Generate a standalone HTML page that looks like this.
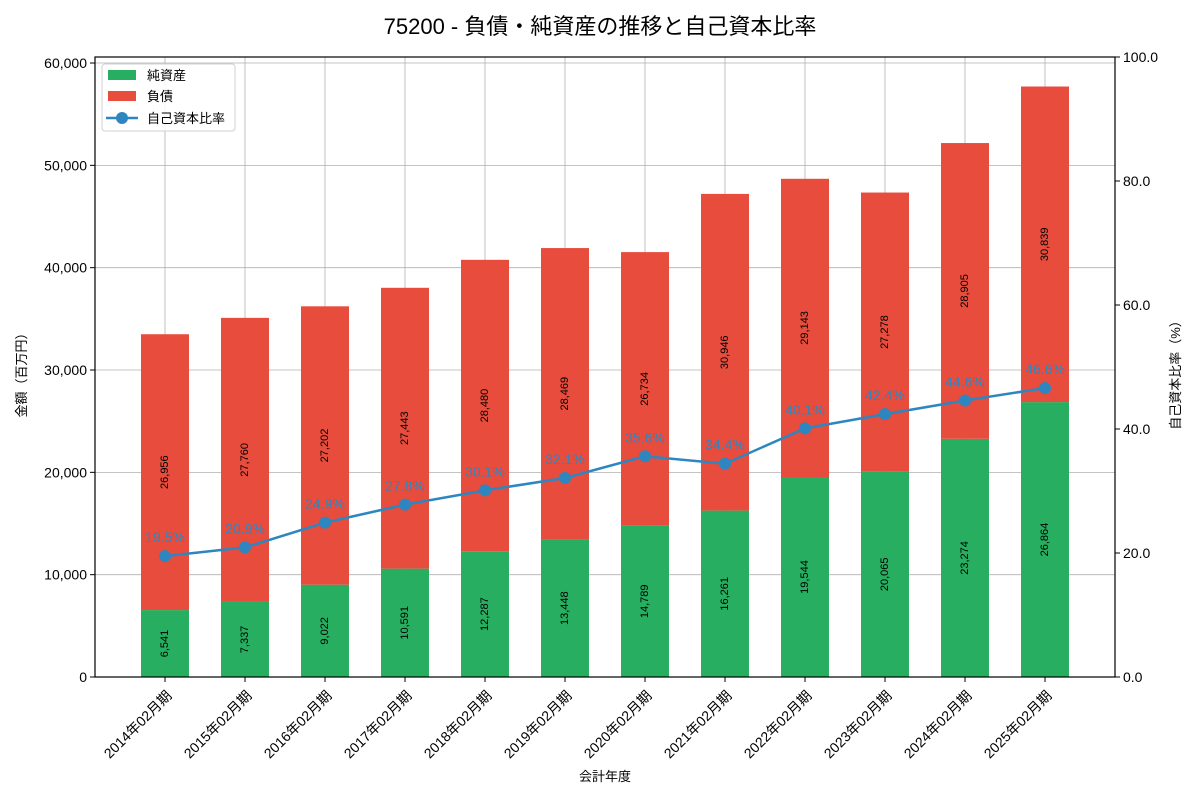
<!DOCTYPE html>
<html><head><meta charset="utf-8"><style>
body{margin:0;background:#fff;}
svg text{font-family:"Liberation Sans","Noto Sans CJK JP",sans-serif;}
</style></head><body>
<svg id="chart" width="1200" height="800" xmlns="http://www.w3.org/2000/svg"></svg>
<script>
const categories=["2014年02月期","2015年02月期","2016年02月期","2017年02月期","2018年02月期","2019年02月期","2020年02月期","2021年02月期","2022年02月期","2023年02月期","2024年02月期","2025年02月期"];
const netAssets=[6541,7337,9022,10591,12287,13448,14789,16261,19544,20065,23274,26864];
const liabilities=[26956,27760,27202,27443,28480,28469,26734,30946,29143,27278,28905,30839];
const ratios=[19.5,20.9,24.9,27.8,30.1,32.1,35.6,34.4,40.1,42.4,44.6,46.6];
const leftTicks=[0,10000,20000,30000,40000,50000,60000];
const rightTicks=[0,20,40,60,80,100];

const NS="http://www.w3.org/2000/svg";
const svg=document.getElementById('chart');
const L=95,R=1115,T=57,B=677;
const yMax=60588;
const x=i=>165+80*i;
const y=v=>B-(v/yMax)*(B-T);
const y2=v=>B-(v/100)*(B-T);
function mk(tag,attrs,parent){const e=document.createElementNS(NS,tag);for(const k in attrs)e.setAttribute(k,attrs[k]);(parent||svg).appendChild(e);return e;}
const fmt=v=>v.toLocaleString('en-US');

// grid
leftTicks.forEach(t=>{const g=mk('line',{x1:L,x2:R,y1:y(t),y2:y(t),stroke:'#b0b0b0','stroke-width':0.8});

});
categories.forEach((c,i)=>{const g=mk('line',{x1:x(i),x2:x(i),y1:T,y2:B,stroke:'#b0b0b0','stroke-width':0.8});

});

// bars
categories.forEach((c,i)=>{
  const n=netAssets[i],l=liabilities[i];
  const b1=mk('rect',{x:x(i)-24,width:48,y:y(n),height:B-y(n),fill:'#27ae60'});
  
  
  const b2=mk('rect',{x:x(i)-24,width:48,y:y(n+l),height:y(n)-y(n+l),fill:'#e74c3c'});
  
  
  const cy1=(B+y(n))/2, cy2=(y(n)+y(n+l))/2;
  const t1=mk('text',{x:x(i),y:cy1,'font-size':11,'text-anchor':'middle','dominant-baseline':'central',transform:`rotate(-90 ${x(i)} ${cy1})`});
  t1.textContent=fmt(n);
  
  
  const t2=mk('text',{x:x(i),y:cy2,'font-size':11,'text-anchor':'middle','dominant-baseline':'central',transform:`rotate(-90 ${x(i)} ${cy2})`});
  t2.textContent=fmt(l);
  
  
});

// ratio line
const pl=mk('polyline',{points:ratios.map((r,i)=>x(i)+','+y2(r)).join(' '),fill:'none',stroke:'#2e86c1','stroke-width':2.5});


ratios.forEach((r,i)=>{
  const c=mk('circle',{cx:x(i),cy:y2(r),r:6,fill:'#2e86c1'});
  
  
  const t=mk('text',{x:x(i),y:y2(r)-14,'font-size':14,'text-anchor':'middle',fill:'#2e86c1'});
  t.textContent=r.toFixed(1)+'%';
  
  
});

// frame
const fr=mk('rect',{x:L,y:T,width:R-L,height:B-T,fill:'none',stroke:'#000','stroke-width':1.2});



// left ticks
leftTicks.forEach(t=>{
  mk('line',{x1:L-5,x2:L,y1:y(t),y2:y(t),stroke:'#000'});
  const tx=mk('text',{x:L-8,y:y(t),'font-size':14,'text-anchor':'end','dominant-baseline':'central'});
  tx.textContent=fmt(t);
  
  
});
rightTicks.forEach(t=>{
  mk('line',{x1:R,x2:R+5,y1:y2(t),y2:y2(t),stroke:'#000'});
  const tx=mk('text',{x:R+8,y:y2(t),'font-size':14,'dominant-baseline':'central'});
  tx.textContent=t.toFixed(1);
  
  
});
categories.forEach((c,i)=>{
  mk('line',{x1:x(i),x2:x(i),y1:B,y2:B+5,stroke:'#000'});
  const tx=mk('text',{x:x(i)+4,y:B+16,'font-size':14,'text-anchor':'end','dominant-baseline':'central',transform:`rotate(-45 ${x(i)+4} ${B+16})`});
  tx.textContent=c;
  
  
});
</script>
<svg width="1200" height="800" style="position:absolute;left:0;top:0" xmlns="http://www.w3.org/2000/svg">
<text x="600" y="34" font-size="22" text-anchor="middle">75200 - 負債・純資産の推移と自己資本比率</text>
<text x="605" y="781" font-size="13" text-anchor="middle">会計年度</text>
<text x="26" y="372" font-size="13" text-anchor="middle" transform="rotate(-90 26 372)">金額（百万円）</text>
<text x="1180" y="372" font-size="13" text-anchor="middle" transform="rotate(-90 1180 372)">自己資本比率（%）</text>
<g>
<rect x="102" y="64" width="133" height="67" rx="3" fill="#fff" fill-opacity="0.85" stroke="#d0d0d0"/>
<rect x="108" y="70" width="28" height="10" fill="#27ae60"/>
<text x="147" y="80" font-size="13">純資産</text>
<rect x="108" y="91" width="28" height="10" fill="#e74c3c"/>
<text x="147" y="101" font-size="13">負債</text>
<line x1="106" x2="138" y1="118" y2="118" stroke="#2e86c1" stroke-width="2.5"/>
<circle cx="122" cy="118" r="6" fill="#2e86c1"/>
<text x="147" y="123" font-size="13">自己資本比率</text>
</g>
</svg>
</body></html>
